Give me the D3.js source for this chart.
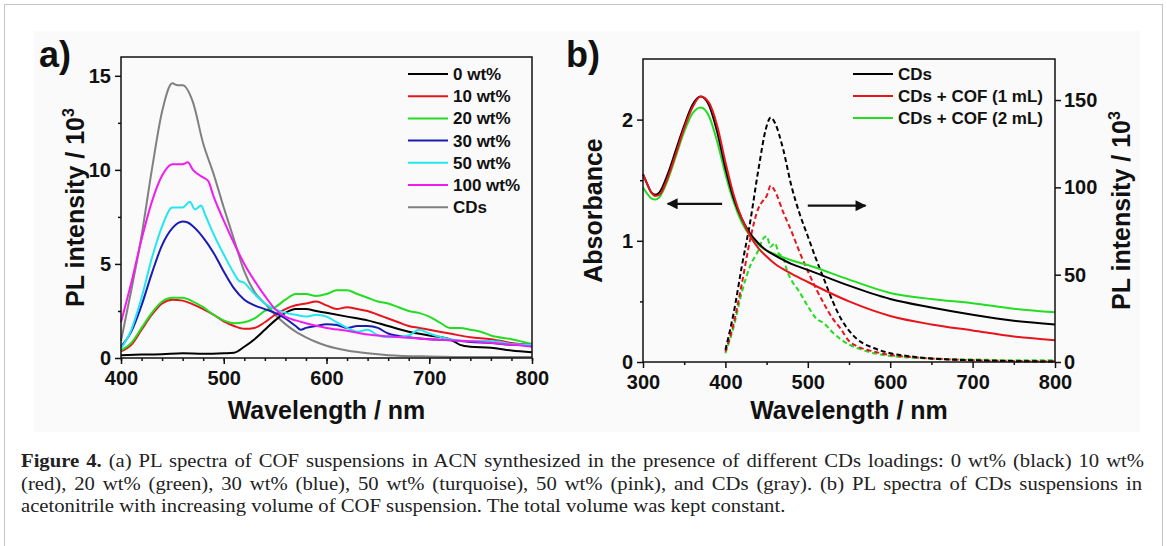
<!DOCTYPE html>
<html>
<head>
<meta charset="utf-8">
<script src="https://cdn.jsdelivr.net/npm/d3@7"></script>
<style>
  body { margin: 0; background: #fff; }
  svg text { font-family: "Liberation Sans", Arial, sans-serif; font-weight: bold; fill: #111; }
  .caption text { font-family: "Liberation Serif", "Times New Roman", serif; font-weight: normal; fill: #222; }
</style>
</head>
<body>
<div id="fig"></div>
<script>
// ---------- panel a data : PL spectra (x in nm, y in 10^3) ----------
var aNames = ["0 wt%", "10 wt%", "20 wt%", "30 wt%", "50 wt%", "100 wt%", "CDs"];
var aColors = ["#000000", "#e8141c", "#22dd22", "#1a1ab4", "#22e6f0", "#f01cf0", "#808080"];

var wt0 = [[400,0.15],[420,0.18],[440,0.2],[460,0.25],[480,0.22],[500,0.25],[510,0.28],[520,0.6],[530,1.0],[540,1.5],[550,2.0],[560,2.4],[570,2.6],[580,2.6],[590,2.5],[600,2.4],[620,2.2],[640,2.0],[660,1.7],[680,1.4],[700,1.2],[720,1.0],[730,0.7],[740,0.6],[760,0.55],[780,0.4],[800,0.3]];
var wt10 = [[400,0.35],[410,0.7],[420,1.5],[430,2.3],[440,2.9],[450,3.1],[460,3.05],[470,2.85],[480,2.6],[490,2.3],[500,1.95],[510,1.7],[520,1.55],[530,1.6],[540,1.9],[550,2.3],[560,2.6],[570,2.8],[580,2.9],[590,3.0],[600,2.8],[610,2.6],[620,2.7],[630,2.6],[640,2.5],[650,2.3],[660,2.1],[670,1.9],[680,1.7],[690,1.6],[700,1.5],[710,1.4],[720,1.3],[740,1.1],[760,1.0],[780,0.8],[800,0.7]];
var wt20 = [[400,0.4],[410,0.8],[420,1.6],[430,2.4],[440,3.0],[450,3.2],[460,3.2],[470,3.0],[480,2.7],[490,2.3],[500,2.0],[510,1.85],[520,1.9],[530,2.1],[540,2.5],[550,2.7],[560,3.1],[570,3.4],[580,3.4],[590,3.3],[600,3.4],[610,3.6],[620,3.6],[630,3.4],[640,3.2],[650,3.0],[660,2.9],[670,2.7],[680,2.5],[690,2.4],[700,2.2],[710,1.9],[720,1.6],[730,1.6],[740,1.5],[750,1.4],[760,1.2],[780,1.0],[800,0.75]];
var wt30 = [[400,0.6],[410,1.4],[420,2.8],[430,4.5],[440,6.0],[450,6.9],[460,7.25],[465,7.2],[470,7.0],[480,6.4],[490,5.6],[500,4.6],[510,3.7],[520,3.1],[530,2.8],[540,2.6],[550,2.4],[560,2.1],[570,1.7],[575,1.5],[580,1.6],[590,1.7],[600,1.8],[610,1.75],[620,1.6],[630,1.7],[640,1.7],[650,1.6],[660,1.3],[680,1.1],[700,1.0],[720,0.95],[740,0.85],[760,0.8],[780,0.7],[800,0.7]];
var wt50 = [[400,0.5],[410,1.5],[420,3.2],[430,5.3],[440,7.0],[450,8.0],[460,8.0],[467,8.3],[472,7.9],[478,8.1],[482,7.6],[490,6.6],[500,5.5],[510,4.5],[515,4.1],[520,4.0],[525,3.7],[530,3.4],[540,2.9],[550,2.6],[560,2.4],[570,2.3],[580,2.2],[590,2.3],[600,2.2],[610,1.9],[620,1.6],[630,1.4],[640,1.5],[650,1.2],[660,1.1],[680,1.2],[690,1.5],[700,1.3],[720,1.0],[740,0.9],[760,0.9],[780,0.75],[800,0.7]];
var wt100 = [[400,1.9],[410,4.0],[420,6.3],[430,8.3],[440,9.7],[450,10.3],[460,10.3],[465,10.4],[470,10.0],[480,9.6],[485,9.4],[490,8.6],[500,7.3],[510,6.1],[520,5.0],[530,4.1],[540,3.3],[550,2.6],[560,2.2],[570,2.0],[580,1.85],[600,1.6],[620,1.45],[640,1.25],[660,1.15],[700,1.0],[750,0.85],[800,0.6]];
var cdsA = [[400,0.9],[410,3.6],[420,6.5],[430,10.0],[440,13.1],[450,14.6],[455,14.5],[460,14.5],[470,13.6],[480,11.4],[490,9.8],[500,8.0],[510,6.3],[520,4.6],[530,3.5],[540,2.9],[550,2.3],[560,1.8],[570,1.4],[580,1.1],[590,0.85],[600,0.65],[620,0.4],[640,0.25],[660,0.15],[700,0.08],[750,0.05],[800,0.05]];

// ---------- panel b data ----------
var bNames = ["CDs", "CDs + COF (1 mL)", "CDs + COF (2 mL)"];
var bColors = ["#000000", "#e8141c", "#22dd22"];
// absorbance (left axis)
var absCDs = [[300,1.55],[305,1.47],[310,1.40],[315,1.38],[320,1.40],[330,1.55],[340,1.75],[350,1.95],[360,2.12],[370,2.19],[380,2.12],[390,1.9],[400,1.6],[410,1.35],[420,1.18],[430,1.06],[440,0.98],[450,0.92],[460,0.88],[480,0.81],[500,0.76],[550,0.63],[600,0.52],[650,0.45],[700,0.39],[750,0.34],[800,0.31]];
var abs1mL = [[300,1.55],[305,1.47],[310,1.40],[315,1.37],[320,1.38],[330,1.52],[340,1.72],[350,1.93],[360,2.10],[370,2.19],[380,2.14],[390,1.95],[400,1.65],[410,1.38],[420,1.18],[430,1.04],[440,0.94],[450,0.87],[460,0.81],[480,0.73],[500,0.66],[550,0.50],[600,0.38],[650,0.31],[700,0.26],[750,0.21],[800,0.18]];
var abs2mL = [[300,1.44],[305,1.39],[310,1.35],[315,1.34],[320,1.36],[330,1.5],[340,1.7],[350,1.9],[360,2.05],[370,2.10],[380,2.03],[390,1.82],[400,1.55],[410,1.32],[420,1.15],[430,1.04],[440,0.97],[450,0.92],[460,0.89],[480,0.84],[500,0.80],[550,0.68],[600,0.57],[650,0.52],[700,0.485],[750,0.44],[800,0.41]];
// PL intensity (right axis, 10^3)
var plCDs = [[400,7],[410,28],[420,55],[430,80],[440,110],[450,135],[455,140],[460,137],[470,122],[480,101],[490,85],[500,72],[510,59],[520,47],[530,35],[540,25],[550,18],[560,13],[580,8],[600,5],[620,3.5],[650,2],[700,1],[750,0.5],[800,0.3]];
var pl1mL = [[400,6],[410,22],[420,45],[430,70],[440,88],[445,92],[450,95],[455,101],[460,98],[470,86],[480,75],[490,63],[500,52],[510,42],[520,33],[530,25],[540,19],[550,12],[560,9],[580,6],[600,4],[620,3],[650,2],[700,1],[750,0.6],[800,0.4]];
var pl2mL = [[400,5],[410,20],[420,40],[430,55],[440,64],[445,70],[450,72],[455,66],[460,68],[465,62],[470,60],[475,52],[480,47],[490,40],[500,32],[510,25],[520,22],[530,17],[540,13],[550,10],[560,8],[580,5],[600,3.5],[650,2],[700,1.5],[750,1],[800,1]];

var aSeries = [wt0, wt10, wt20, wt30, wt50, wt100, cdsA];
var bAbs = [absCDs, abs1mL, abs2mL];
var bPL = [plCDs, pl1mL, pl2mL];

var W = 1167, H = 546;
var svg = d3.select("#fig").append("svg").attr("width", W).attr("height", H);

// page frame and figure background
svg.append("rect").attr("x", 4.5).attr("y", 4.5).attr("width", 1158).attr("height", 600)
  .attr("fill", "#fff").attr("stroke", "#c4c4c4");
svg.append("rect").attr("x", 34).attr("y", 31).attr("width", 1106).attr("height", 401).attr("fill", "#fafafa");

function box(g, x, y) {
  g.append("rect")
    .attr("x", x.range()[0]).attr("y", y.range()[1])
    .attr("width", x.range()[1] - x.range()[0])
    .attr("height", y.range()[0] - y.range()[1])
    .attr("fill", "none").attr("stroke", "#111").attr("stroke-width", 1.5);
}
function styleAxis(sel) {
  sel.select(".domain").remove();
  sel.selectAll(".tick line").attr("stroke", "#111").attr("stroke-width", 1.5);
  sel.selectAll(".tick text").attr("font-size", 20).attr("fill", "#111");
}
var intFmt = d3.format("d");

// ================= panel a =================
var xa = d3.scaleLinear().domain([400, 800]).range([121, 532]);
var ya = d3.scaleLinear().domain([0, 16]).range([358, 57]);
var ga = svg.append("g");

ga.append("g").attr("transform", "translate(0," + ya(0) + ")")
  .call(d3.axisBottom(xa).tickValues(d3.range(400, 801, 20)).tickSize(3).tickFormat(""))
  .call(styleAxis);
ga.append("g").attr("transform", "translate(0," + ya(0) + ")")
  .call(d3.axisBottom(xa).tickValues([400, 500, 600, 700, 800]).tickSize(6).tickPadding(7).tickFormat(intFmt))
  .call(styleAxis);
ga.append("g").attr("transform", "translate(" + xa(400) + ",0)")
  .call(d3.axisLeft(ya).tickValues([2.5, 7.5, 12.5]).tickSize(3).tickFormat(""))
  .call(styleAxis);
ga.append("g").attr("transform", "translate(" + xa(400) + ",0)")
  .call(d3.axisLeft(ya).tickValues([0, 5, 10, 15]).tickSize(6).tickPadding(4).tickFormat(intFmt))
  .call(styleAxis);

var lineA = d3.line().x(function(d) { return xa(d[0]); }).y(function(d) { return ya(d[1]); })
  .curve(d3.curveMonotoneX);
// draw gray first so it sits behind
[6, 0, 1, 2, 3, 4, 5].forEach(function(i) {
  ga.append("path").datum(aSeries[i]).attr("d", lineA)
    .attr("fill", "none").attr("stroke", aColors[i]).attr("stroke-width", 2);
});
box(ga, xa, ya);

aNames.forEach(function(n, i) {
  var yy = 74 + i * 22.2;
  ga.append("line").attr("x1", 408).attr("x2", 448).attr("y1", yy).attr("y2", yy)
    .attr("stroke", aColors[i]).attr("stroke-width", 2);
  ga.append("text").attr("x", 453).attr("y", yy + 6).attr("font-size", 17).text(n);
});

ga.append("text").attr("x", 39).attr("y", 67).attr("font-size", 36).text("a)");
ga.append("text").attr("x", (xa.range()[0] + xa.range()[1]) / 2).attr("y", 419)
  .attr("text-anchor", "middle").attr("font-size", 25).text("Wavelength / nm");
var ta = ga.append("text").attr("transform", "translate(84," + ((ya.range()[0] + ya.range()[1]) / 2) + ") rotate(-90)")
  .attr("text-anchor", "middle").attr("font-size", 25);
ta.append("tspan").text("PL intensity / 10");
ta.append("tspan").attr("font-size", 16).attr("dy", -10).text("3");

// ================= panel b =================
var xb = d3.scaleLinear().domain([300, 800]).range([643, 1055]);
var yb = d3.scaleLinear().domain([0, 2.5]).range([362, 59]);
var yb2 = d3.scaleLinear().domain([0, 173.5]).range([362, 59]);
var gb = svg.append("g");

gb.append("g").attr("transform", "translate(0," + yb(0) + ")")
  .call(d3.axisBottom(xb).tickValues(d3.range(350, 800, 100)).tickSize(3).tickFormat(""))
  .call(styleAxis);
gb.append("g").attr("transform", "translate(0," + yb(0) + ")")
  .call(d3.axisBottom(xb).tickValues([300, 400, 500, 600, 700, 800]).tickSize(6).tickPadding(7).tickFormat(intFmt))
  .call(styleAxis);
gb.append("g").attr("transform", "translate(" + xb(300) + ",0)")
  .call(d3.axisLeft(yb).tickValues([0.5, 1.5]).tickSize(3).tickFormat(""))
  .call(styleAxis);
gb.append("g").attr("transform", "translate(" + xb(300) + ",0)")
  .call(d3.axisLeft(yb).tickValues([0, 1, 2]).tickSize(6).tickPadding(4).tickFormat(intFmt))
  .call(styleAxis);
gb.append("g").attr("transform", "translate(" + xb(800) + ",0)")
  .call(d3.axisRight(yb2).tickValues([0, 50, 100, 150]).tickSize(6).tickPadding(3).tickFormat(intFmt))
  .call(styleAxis);

var lineAbs = d3.line().x(function(d) { return xb(d[0]); }).y(function(d) { return yb(d[1]); })
  .curve(d3.curveMonotoneX);
var linePL = d3.line().x(function(d) { return xb(d[0]); }).y(function(d) { return yb2(d[1]); })
  .curve(d3.curveMonotoneX);

[2, 1, 0].forEach(function(i) {
  gb.append("path").datum(bPL[i]).attr("d", linePL)
    .attr("fill", "none").attr("stroke", bColors[i]).attr("stroke-width", 2)
    .attr("stroke-dasharray", "5,3");
});
[2, 0, 1].forEach(function(i) {
  gb.append("path").datum(bAbs[i]).attr("d", lineAbs)
    .attr("fill", "none").attr("stroke", bColors[i]).attr("stroke-width", 2);
});
box(gb, xb, yb);

// arrows pointing to the axis each curve set belongs to
svg.append("defs").append("marker").attr("id", "arr")
  .attr("viewBox", "0 0 10 10").attr("refX", 9).attr("refY", 5)
  .attr("markerWidth", 6).attr("markerHeight", 5).attr("orient", "auto")
  .append("path").attr("d", "M0,0L10,5L0,10z").attr("fill", "#111");
gb.append("line").attr("x1", xb(396)).attr("x2", xb(330)).attr("y1", yb(1.305)).attr("y2", yb(1.305))
  .attr("stroke", "#111").attr("stroke-width", 2.2).attr("marker-end", "url(#arr)");
gb.append("line").attr("x1", xb(500)).attr("x2", xb(570)).attr("y1", yb(1.29)).attr("y2", yb(1.29))
  .attr("stroke", "#111").attr("stroke-width", 2.2).attr("marker-end", "url(#arr)");

bNames.forEach(function(n, i) {
  var yy = 74 + i * 22;
  gb.append("line").attr("x1", 853).attr("x2", 893).attr("y1", yy).attr("y2", yy)
    .attr("stroke", bColors[i]).attr("stroke-width", 2);
  gb.append("text").attr("x", 898).attr("y", yy + 6).attr("font-size", 17).text(n);
});

gb.append("text").attr("x", 566).attr("y", 67).attr("font-size", 36).text("b)");
gb.append("text").attr("x", (xb.range()[0] + xb.range()[1]) / 2).attr("y", 419)
  .attr("text-anchor", "middle").attr("font-size", 25).text("Wavelength / nm");
gb.append("text").attr("transform", "translate(602," + ((yb.range()[0] + yb.range()[1]) / 2) + ") rotate(-90)")
  .attr("text-anchor", "middle").attr("font-size", 25).text("Absorbance");
var tb = gb.append("text").attr("transform", "translate(1130," + ((yb.range()[0] + yb.range()[1]) / 2) + ") rotate(-90)")
  .attr("text-anchor", "middle").attr("font-size", 25);
tb.append("tspan").text("PL intensity / 10");
tb.append("tspan").attr("font-size", 16).attr("dy", -10).text("3");

// ================= caption =================
// last line sets the glyph squeeze, the first two are justified with word spacing
var capLines = [
  [["Figure 4.", true], [" (a) PL spectra of COF suspensions in ACN synthesized in the presence of different CDs loadings: 0 wt% (black) 10 wt%", false]],
  [["(red), 20 wt% (green), 30 wt% (blue), 50 wt% (turquoise), 50 wt% (pink), and CDs (gray). (b) PL spectra of CDs suspensions in", false]],
  [["acetonitrile with increasing volume of COF suspension. The total volume was kept constant.", false]]
];
var capWidths = [1124, 1122, 765];
var capY = [467, 490, 512];
var cap = svg.append("g").attr("class", "caption");
var capText = capLines.map(function(parts, i) {
  var t = cap.append("text").attr("x", 0).attr("y", 0).attr("font-size", 18);
  parts.forEach(function(p) {
    t.append("tspan").attr("font-weight", p[1] ? "bold" : "normal").text(p[0]);
  });
  return t;
});
var squeeze = capWidths[2] / capText[2].node().getComputedTextLength();
capText.forEach(function(t, i) {
  if (i < 2) {
    var natural = t.node().getComputedTextLength();
    var spaces = t.text().split(" ").length - 1;
    t.attr("word-spacing", Math.max(0, (capWidths[i] / squeeze - natural) / spaces));
  }
  t.attr("transform", "translate(21," + capY[i] + ") scale(" + squeeze + ",1)");
});
</script>
</body>
</html>
